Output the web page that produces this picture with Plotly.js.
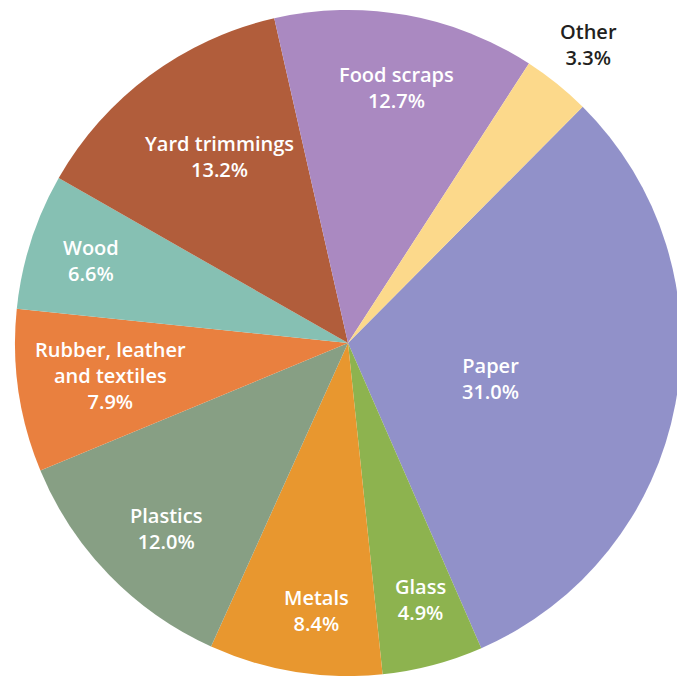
<!DOCTYPE html>
<html>
<head>
<meta charset="utf-8">
<script src="https://cdn.plot.ly/plotly-3.0.1.min.js"></script>
<style>html,body{margin:0;padding:0;overflow:hidden;background:#fff;}</style>
</head>
<body>
<div id="chart"></div>
<script>
const categories = ["Paper", "Glass", "Metals", "Plastics", "Rubber, leather<br>and textiles", "Wood", "Yard trimmings", "Food scraps", "Other"];
const shares = [31.0, 4.9, 8.4, 12.0, 7.9, 6.6, 13.2, 12.7, 3.3];

// styling (not data)
const sliceColors = ["#9191c9", "#8db34f", "#e8972f", "#879f84", "#e9803f", "#86c0b3", "#b15d3b", "#aa89c1", "#fcd98b"];
const labelColors = ["#ffffff", "#ffffff", "#ffffff", "#ffffff", "#ffffff", "#ffffff", "#ffffff", "#ffffff", "#231f20"];
const labelRadius = [0.44, 0.80, 0.81, 0.78, 0.72, 0.81, 0.68, 0.78, 1.15];
const labelAngleShift = [3.6, -1.0, -2.4, -1.4, 0.4, 0.0, 2.1, 0.6, 0.0];
const startAngle = 44.8;

const trace = {
  type: "pie",
  labels: categories,
  values: shares,
  sort: false,
  direction: "clockwise",
  rotation: startAngle,
  marker: {colors: sliceColors, line: {width: 0}},
  textinfo: "none",
  hoverinfo: "label+percent",
  showlegend: false
};

// labels placed along each slice's mid-angle, derived from the values
const total = shares.reduce((a, b) => a + b, 0);
let cum = 0;
const annotations = categories.map((cat, i) => {
  const mid = startAngle + 360 * (cum + shares[i] / 2) / total + labelAngleShift[i];
  cum += shares[i];
  const rad = mid * Math.PI / 180;
  return {
    xref: "paper", yref: "paper",
    x: 0.5 + 0.5 * labelRadius[i] * Math.sin(rad),
    y: 0.5 + 0.5 * labelRadius[i] * Math.cos(rad),
    xanchor: "center", yanchor: "middle",
    text: cat + "<br>" + shares[i].toFixed(1) + "%",
    showarrow: false,
    align: "center",
    font: {family: "Open Sans", size: 20, weight: 600, color: labelColors[i]}
  };
});

const layout = {
  width: 690,
  height: 676,
  margin: {l: 15, r: 9, t: 10, b: 0, pad: 0},
  paper_bgcolor: "#ffffff",
  showlegend: false,
  annotations: annotations
};

Plotly.newPlot("chart", [trace], layout, {displayModeBar: false, staticPlot: true});
</script>
</body>
</html>
